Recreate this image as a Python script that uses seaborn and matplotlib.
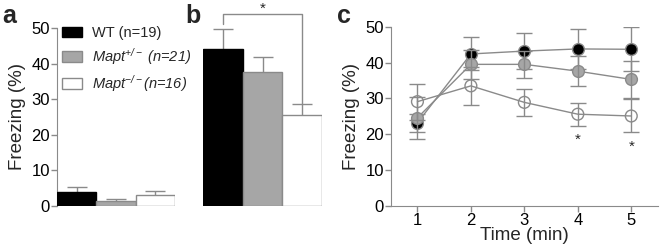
import numpy as np
import pandas as pd
import matplotlib
matplotlib.use("Agg")
import matplotlib.pyplot as plt
import seaborn as sns

# ---------------- data ----------------
groups = ["WT", "Mapt+/-", "Mapt-/-"]
legend_labels = [r"WT (n=19)",
                 r"Mapt$^{+/-}$ (n=21)",
                 r"Mapt$^{-/-}$(n=16)"]
legend_italic = [False, True, True]
fill_colors = ["#000000", "#a6a6a6", "#ffffff"]
edge_colors = ["#000000", "#8a8a8a", "#8a8a8a"]

a_mean = [4.0, 1.4, 3.1]
a_sem = [1.2, 0.6, 1.0]

b_mean = [44.0, 37.7, 25.6]
b_sem = [5.6, 4.1, 3.1]

times = [1, 2, 3, 4, 5]
c_wt = [23.2, 42.4, 43.2, 43.8, 43.7]
c_het = [24.6, 39.5, 39.5, 37.6, 35.3]
c_ko = [29.1, 33.5, 28.9, 25.6, 25.1]
c_wt_sem = [2.5, 4.6, 5.1, 5.6, 6.1]
c_het_sem = [5.8, 4.0, 3.7, 4.1, 5.1]
c_ko_sem = [5.0, 5.4, 3.7, 3.2, 4.6]
c_stars_x = [4, 5]
c_stars_y = [18.5, 16.4]

# ---------------- style ----------------
sns.set_style("ticks")
plt.rcParams["font.family"] = ["Liberation Sans", "DejaVu Sans"]
plt.rcParams["mathtext.fontset"] = "custom"
plt.rcParams["mathtext.rm"] = "Liberation Sans"
plt.rcParams["mathtext.it"] = "Liberation Sans:italic"
plt.rcParams["mathtext.bf"] = "Liberation Sans:bold"
plt.rcParams["mathtext.default"] = "regular"

spine_c = "#8a8a8a"
fig = plt.figure(figsize=(6.6, 2.5), dpi=100)

H = (206 - 28) / 250
bottom = 1 - 206 / 250
ax_a = fig.add_axes([57 / 660, bottom, 118 / 660, H])
ax_b = fig.add_axes([203 / 660, bottom, 119 / 660, H])
ax_c = fig.add_axes([390.7 / 660, bottom, (658 - 390.7) / 660, (206 - 26.7) / 250])


def bars(ax, means, sems):
    df = pd.DataFrame({"group": groups, "value": means})
    sns.barplot(data=df, x="group", y="value", hue="group", order=groups,
                hue_order=groups, palette=dict(zip(groups, fill_colors)),
                width=1.0, dodge=False, legend=False, ax=ax, zorder=3,
                saturation=1)
    for p, ec in zip(ax.patches, edge_colors):
        p.set_edgecolor(ec)
        p.set_linewidth(1.0)
    ax.errorbar(range(len(groups)), means, yerr=sems, fmt="none",
                ecolor=spine_c, elinewidth=1.0, capsize=7, capthick=1.0,
                zorder=2)
    ax.set_xlim(-0.5, 2.5)
    ax.set_ylim(0, 50)
    ax.set_xlabel("")


bars(ax_a, a_mean, a_sem)
bars(ax_b, b_mean, b_sem)

# panel a axes
ax_a.set_ylabel("Freezing (%)", fontsize=13.5, labelpad=4)
ax_a.set_yticks(range(0, 51, 10))
ax_a.set_xticks([])
for s in ["top", "right", "bottom"]:
    ax_a.spines[s].set_visible(False)
ax_a.spines["left"].set_color(spine_c)
ax_a.tick_params(axis="y", colors=spine_c, labelcolor="black", labelsize=12,
                 length=4, width=1, pad=1)
handles = list(ax_a.patches[:3])
leg = ax_a.legend(handles, legend_labels, loc="upper left",
                  bbox_to_anchor=(-0.035, 1.06), frameon=False, fontsize=10.5,
                  handlelength=1.37, handleheight=0.75, handletextpad=0.69,
                  labelspacing=0.42, borderaxespad=0.2)
for t, it in zip(leg.get_texts(), legend_italic):
    if it:
        t.set_fontstyle("italic")

# panel b axes
for s in ["top", "right", "bottom", "left"]:
    ax_b.spines[s].set_visible(False)
ax_b.set_xticks([])
ax_b.set_yticks([])
ax_b.set_ylabel("")
bx = [0, 0, 2, 2]
by = [b_mean[0] + b_sem[0] + 1.5, 53.8, 53.8, b_mean[2] + b_sem[2]]
ax_b.plot(bx, by, color=spine_c, lw=1.0, clip_on=False)
ax_b.text(1, 53.5, "*", ha="center", va="bottom", fontsize=11, clip_on=False)

# panel c
rows = []
for g, m in zip(groups, [c_wt, c_het, c_ko]):
    for t, v in zip(times, m):
        rows.append({"time": t, "value": v, "group": g})
df_c = pd.DataFrame(rows)
sns.lineplot(data=df_c, x="time", y="value", hue="group", hue_order=groups,
             palette=dict(zip(groups, [spine_c] * 3)), lw=1.0, legend=False,
             ax=ax_c, zorder=2)
z_marker = [2.2, 2.3, 2.5]
z_err = [2.1, 2.4, 2.6]
for g, fc, sem, zm, ze in zip(groups, fill_colors,
                              [c_wt_sem, c_het_sem, c_ko_sem], z_marker, z_err):
    sub = df_c[df_c.group == g]
    face = "none" if fc == "#ffffff" else fc
    sns.scatterplot(x=sub.time, y=sub.value, facecolor=face, edgecolor=spine_c,
                    linewidth=1.0, s=72, ax=ax_c, zorder=zm, legend=False)
    ax_c.errorbar(sub.time, sub.value, yerr=sem, fmt="none", ecolor=spine_c,
                  elinewidth=1.0, capsize=5.5, capthick=1.0, zorder=ze)
for x, y in zip(c_stars_x, c_stars_y):
    ax_c.text(x, y, "*", ha="center", va="center", fontsize=11)
ax_c.set_xlim(0.5, 5.5)
ax_c.set_ylim(0, 50)
ax_c.set_xticks(times)
ax_c.set_yticks(range(0, 51, 10))
ax_c.set_xlabel("Time (min)", fontsize=13.5, labelpad=-1)
ax_c.set_ylabel("Freezing (%)", fontsize=13.5, labelpad=4)
for s in ["top", "right"]:
    ax_c.spines[s].set_visible(False)
for s in ["left", "bottom"]:
    ax_c.spines[s].set_color(spine_c)
ax_c.tick_params(colors=spine_c, labelcolor="black", labelsize=12,
                 length=4, width=1, pad=1)

# panel letters
for lbl, x in zip(["a", "b", "c"], [2, 185, 337]):
    fig.text(x / 660, 1 - 4 / 250, lbl, fontsize=18, fontweight="bold",
             va="top", ha="left")

fig.savefig("out.png", dpi=100)
